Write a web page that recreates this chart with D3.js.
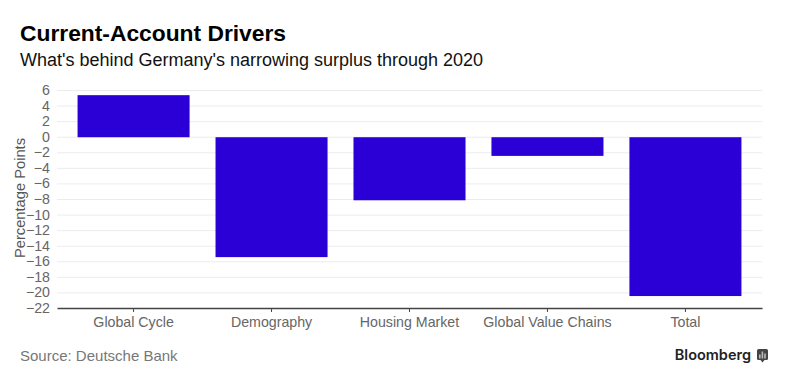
<!DOCTYPE html>
<html>
<head>
<meta charset="utf-8">
<script src="https://cdnjs.cloudflare.com/ajax/libs/d3/7.8.5/d3.min.js"></script>
<style>
html, body { margin: 0; padding: 0; background: #fff; }
svg { display: block; font-family: "Liberation Sans", Arial, sans-serif; }
</style>
</head>
<body>
<svg id="chart" width="788" height="384"></svg>
<script>
const categories = ["Global Cycle", "Demography", "Housing Market", "Global Value Chains", "Total"];
const values = [5.4, -15.4, -8.1, -2.4, -20.4];
const yTicks = [6, 4, 2, 0, -2, -4, -6, -8, -10, -12, -14, -16, -18, -20, -22];

const svg = d3.select("#chart");
const margin = { top: 90, right: 26, bottom: 76, left: 57 };
const width = +svg.attr("width") - margin.left - margin.right;
const height = +svg.attr("height") - margin.top - margin.bottom;
const g = svg.append("g").attr("transform", `translate(${margin.left},${margin.top})`);

const xScale = d3.scaleBand()
    .domain(categories)
    .range([0, width])
    .paddingInner(0.188)
    .paddingOuter(0.149);

const yScale = d3.scaleLinear()
    .domain([6, -22])
    .range([0, height]);

// grid
g.selectAll(".grid")
    .data(yTicks.filter(d => d !== -22))
    .enter()
    .append("line")
    .attr("x1", 0)
    .attr("x2", width)
    .attr("y1", d => yScale(d) + 0.5)
    .attr("y2", d => yScale(d) + 0.5)
    .attr("stroke", "#ececec");

// bars
g.selectAll(".bar")
    .data(values)
    .enter()
    .append("rect")
    .attr("x", (d, i) => xScale(categories[i]))
    .attr("y", d => yScale(Math.max(d, 0)) + 0.5)
    .attr("width", xScale.bandwidth())
    .attr("height", d => Math.abs(yScale(d) - yScale(0)))
    .attr("fill", "#2a00d6");

// y axis
g.append("g")
    .call(d3.axisLeft(yScale).tickValues(yTicks).tickSize(0).tickPadding(7).tickFormat(d3.format("d")))
    .call(a => a.select(".domain").remove())
    .call(a => a.selectAll("text").attr("font-size", 14.2).attr("font-family", "Liberation Sans").attr("fill", "#666"));

// x axis
g.append("g")
    .attr("transform", `translate(0,${height})`)
    .call(d3.axisBottom(xScale).tickSize(4).tickPadding(5).tickSizeOuter(0))
    .call(a => a.select(".domain").attr("stroke", "#444").attr("stroke-width", 1.4))
    .call(a => a.selectAll(".tick line").attr("stroke", "#444"))
    .call(a => a.selectAll("text").attr("font-size", 14.2).attr("font-family", "Liberation Sans").attr("fill", "#666"));

svg.append("text")
    .attr("transform", `translate(25,198) rotate(-90)`)
    .attr("text-anchor", "middle")
    .attr("font-size", 14.7)
    .attr("fill", "#555")
    .text("Percentage Points");

svg.append("text").attr("x", 20).attr("y", 41)
    .attr("font-size", 22.8).attr("font-weight", "bold").attr("fill", "#000")
    .text("Current-Account Drivers");

svg.append("text").attr("x", 20).attr("y", 66)
    .attr("font-size", 18).attr("fill", "#111")
    .text("What's behind Germany's narrowing surplus through 2020");

svg.append("text").attr("x", 20).attr("y", 361)
    .attr("font-size", 15).attr("fill", "#777")
    .text("Source: Deutsche Bank");

svg.append("text").attr("x", 751).attr("y", 360)
    .attr("text-anchor", "end")
    .attr("font-family", "Inter")
    .attr("font-size", 14.5).attr("font-weight", 600).attr("fill", "#222")
    .text("Bloomberg");

// small logo mark
const logoBars = [4, 7, 5];
svg.append("rect").attr("x", 757).attr("y", 349).attr("width", 11).attr("height", 11).attr("rx", 1.5).attr("fill", "#444");
svg.append("path").attr("d", "M760.5 360h4l-2 2.5z").attr("fill", "#444");
svg.selectAll(".logo-bar")
    .data(logoBars)
    .enter()
    .append("rect")
    .attr("x", (d, i) => 759 + i * 2.6)
    .attr("y", d => 358.5 - d)
    .attr("width", 1.6)
    .attr("height", d => d)
    .attr("fill", "#bbb");
</script>
</body>
</html>
